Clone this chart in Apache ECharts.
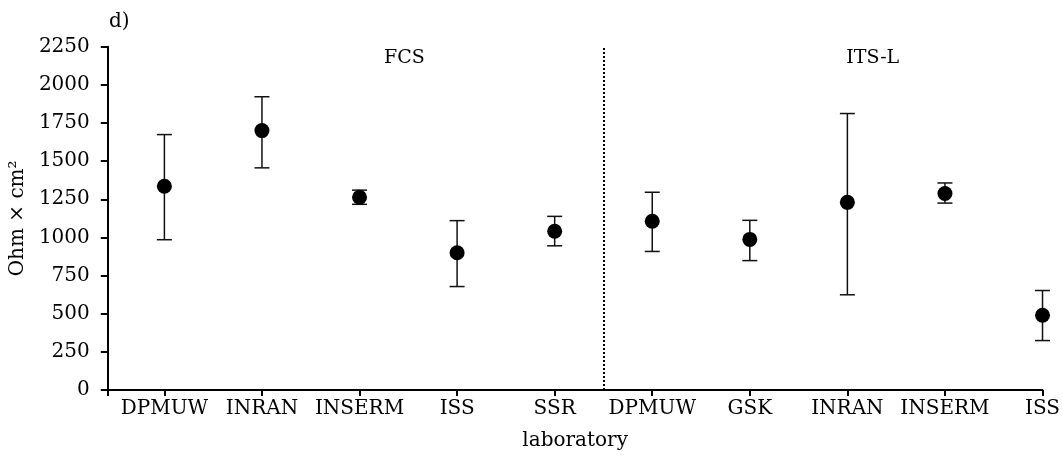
<!DOCTYPE html>
<html>
<head>
<meta charset="utf-8">
<script src="https://cdn.jsdelivr.net/npm/echarts@6/dist/echarts.min.js"></script>
<style>html,body{margin:0;padding:0;background:#fff}#c{width:1063px;height:456px}</style>
</head>
<body>
<div id="c"></div>
<script>
// categories (position 1..10 on the x axis)
const categories = ['DPMUW','INRAN','INSERM','ISS','SSR','DPMUW','GSK','INRAN','INSERM','ISS'];
const positions = [1,2,3,4,5,6,7,8,9,10];
// mean values
const means = [1335, 1700, 1263, 900, 1040, 1106, 987, 1230, 1288, 490];
// error bar lower / upper ends
const lows  = [985, 1456, 1217, 678, 945, 908, 848, 624, 1225, 324];
const highs = [1674, 1922, 1310, 1110, 1138, 1296, 1112, 1812, 1357, 652];
// y ticks
const yTicks = [0,250,500,750,1000,1250,1500,1750,2000,2250];
// group labels and separator
const groups = [{name:'FCS', x:3.46, y:2176}, {name:'ITS-L', x:8.26, y:2176}];
const separatorX = 5.5;

const FONT = 'DejaVu Serif';
const chart = echarts.init(document.getElementById('c'));

const meanData = positions.map((p,i)=>[p, means[i]]);
const errData = positions.map((p,i)=>[p, lows[i], highs[i]]);

chart.setOption({
  animation:false,
  backgroundColor:'#fff',
  textStyle:{fontFamily:FONT, color:'#000'},
  grid:{left:106, right:15, top:46.7, bottom:64.3, containLabel:false},
  graphic:[{type:'text', left:109, top:12, style:{text:'d)', font:'20px "DejaVu Serif"', fill:'#000'}}],
  xAxis:{
    type:'value', min:0.42, max:10,
    name:'laboratory', nameLocation:'middle', nameGap:41,
    nameTextStyle:{fontFamily:FONT, fontSize:20, color:'#000'},
    axisLine:{show:true, lineStyle:{color:'#000', width:2}},
    axisTick:{show:true, length:6, lineStyle:{color:'#000', width:2}, customValues:[0.42].concat(positions)},
    axisLabel:{fontFamily:FONT, fontSize:20, color:'#000', margin:9, customValues:positions,
      formatter:(v)=>{const i=Math.round(v)-1; return categories[i]||'';}},
    splitLine:{show:false}
  },
  yAxis:{
    type:'value', min:0, max:2250, interval:250,
    name:'Ohm × cm²', nameLocation:'middle', nameGap:72, nameRotate:90,
    nameTextStyle:{fontFamily:FONT, fontSize:20, color:'#000'},
    axisLine:{show:true, lineStyle:{color:'#000', width:2}},
    axisTick:{show:true, length:7, lineStyle:{color:'#000', width:2}},
    axisLabel:{fontFamily:FONT, fontSize:20, color:'#000', margin:18,
      formatter:(v)=> yTicks.indexOf(v)>=0 ? String(v) : ''},
    splitLine:{show:false}
  },
  series:[
    {
      type:'custom', data:errData, z:2,
      renderItem:(params, api)=>{
        const x = api.value(0);
        const lo = api.coord([x, api.value(1)]);
        const hi = api.coord([x, api.value(2)]);
        const hw = 7.5;
        const st = {stroke:'#111', lineWidth:1.5};
        return {type:'group', children:[
          {type:'line', shape:{x1:lo[0], y1:lo[1], x2:hi[0], y2:hi[1]}, style:st},
          {type:'line', shape:{x1:lo[0]-hw, y1:lo[1], x2:lo[0]+hw, y2:lo[1]}, style:st},
          {type:'line', shape:{x1:hi[0]-hw, y1:hi[1], x2:hi[0]+hw, y2:hi[1]}, style:st}
        ]};
      }
    },
    {
      type:'scatter', data:meanData, symbol:'circle', symbolSize:15, z:3,
      itemStyle:{color:'#000', opacity:1},
      markLine:{
        silent:true, symbol:['none','none'],
        lineStyle:{color:'#000', type:'dotted', width:2},
        label:{show:false},
        data:[{xAxis:separatorX}]
      },
      markPoint:{
        silent:true, symbol:'circle', symbolSize:0,
        label:{show:true, position:'inside', fontFamily:FONT, fontSize:19, color:'#000', formatter:(p)=>p.name},
        data:groups.map(g=>({name:g.name, coord:[g.x, g.y]}))
      }
    }
  ]
});
</script>
</body>
</html>
